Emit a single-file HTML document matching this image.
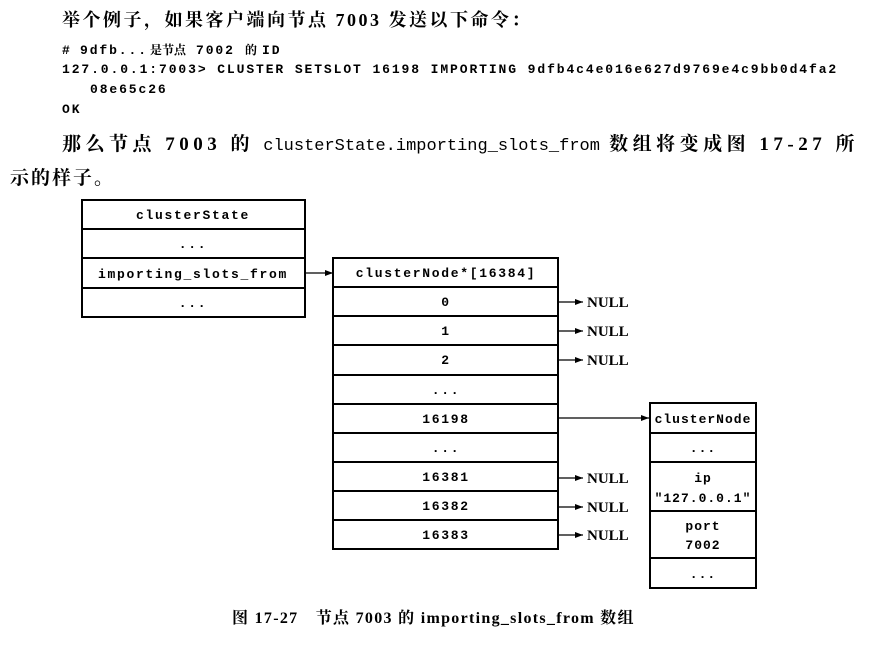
<!DOCTYPE html>
<html><head><meta charset="utf-8"><style>
html,body{margin:0;padding:0;background:#fff;}
svg{display:block;}
.cn{font-family:"Liberation Serif","Noto Serif CJK SC","Noto Sans CJK SC",serif;font-weight:bold;}
.m{font-family:"Liberation Mono",monospace;}
</style></head><body>
<svg width="876" height="652" viewBox="0 0 876 652" xmlns="http://www.w3.org/2000/svg">
<defs><marker id="a" markerWidth="8" markerHeight="6" refX="8" refY="3" orient="auto" markerUnits="userSpaceOnUse"><path d="M0,0 L8,3 L0,6 z" fill="#000"/></marker></defs>
<text class="cn" x="62" y="26" font-size="18" letter-spacing="2.5">举个例子，如果客户端向节点 7003 发送以下命令：</text>
<g class="m" font-size="13" font-weight="bold" letter-spacing="1.9">
<text x="62" y="54">#</text><text x="80" y="54">9dfb...</text>
<text class="cn" x="150" y="54" font-size="12" letter-spacing="0">是节点</text>
<text x="196" y="54">7002</text>
<text class="cn" x="245" y="54" font-size="12" letter-spacing="0">的</text>
<text x="262" y="54">ID</text>
<text x="62" y="73">127.0.0.1:7003&gt; CLUSTER SETSLOT 16198 IMPORTING 9dfb4c4e016e627d9769e4c9bb0d4fa2</text>
<text x="90" y="93">08e65c26</text>
<text x="62" y="113">OK</text>
</g>
<text x="62" y="150" font-size="19"><tspan class="cn" letter-spacing="4.5">那么节点 7003 的 </tspan><tspan class="m" font-size="17">clusterState.importing_slots_from</tspan><tspan class="cn" letter-spacing="4.5"> 数组将变成图 17-27 所</tspan></text>
<text class="cn" x="10" y="184" font-size="19" letter-spacing="2">示的样子。</text>
<g fill="none" stroke="#000" stroke-width="2">
<rect x="82" y="200" width="223" height="117"/>
<line x1="82" y1="229" x2="305" y2="229"/><line x1="82" y1="258" x2="305" y2="258"/><line x1="82" y1="288" x2="305" y2="288"/>
<rect x="333" y="258" width="225" height="291"/>
<line x1="333" y1="287" x2="558" y2="287"/><line x1="333" y1="316" x2="558" y2="316"/><line x1="333" y1="345" x2="558" y2="345"/><line x1="333" y1="375" x2="558" y2="375"/><line x1="333" y1="404" x2="558" y2="404"/><line x1="333" y1="433" x2="558" y2="433"/><line x1="333" y1="462" x2="558" y2="462"/><line x1="333" y1="491" x2="558" y2="491"/><line x1="333" y1="520" x2="558" y2="520"/>
<rect x="650" y="403" width="106" height="185"/>
<line x1="650" y1="433" x2="756" y2="433"/><line x1="650" y1="462" x2="756" y2="462"/><line x1="650" y1="511" x2="756" y2="511"/><line x1="650" y1="558" x2="756" y2="558"/>
</g>
<g stroke="#000" stroke-width="1.2" marker-end="url(#a)">
<line x1="306" y1="273" x2="333" y2="273"/>
<line x1="559" y1="302" x2="583" y2="302"/><line x1="559" y1="331" x2="583" y2="331"/><line x1="559" y1="360" x2="583" y2="360"/>
<line x1="559" y1="418" x2="649" y2="418"/>
<line x1="559" y1="478" x2="583" y2="478"/><line x1="559" y1="507" x2="583" y2="507"/><line x1="559" y1="535" x2="583" y2="535"/>
</g>
<g class="m" font-size="13" font-weight="bold" text-anchor="middle" letter-spacing="1.7">
<text x="193" y="219">clusterState</text><text x="193" y="248">...</text><text x="193" y="278">importing_slots_from</text><text x="193" y="307">...</text>
<text x="446" y="277">clusterNode*[16384]</text><text x="446" y="306">0</text><text x="446" y="335">1</text><text x="446" y="364">2</text><text x="446" y="394">...</text><text x="446" y="423">16198</text><text x="446" y="452">...</text><text x="446" y="481">16381</text><text x="446" y="510">16382</text><text x="446" y="539">16383</text>
</g>
<g class="m" font-size="13" font-weight="bold" text-anchor="middle" letter-spacing="1">
<text x="703" y="423">clusterNode</text><text x="703" y="452">...</text><text x="703" y="482">ip</text><text x="703" y="502">"127.0.0.1"</text><text x="703" y="530">port</text><text x="703" y="549">7002</text><text x="703" y="578">...</text>
</g>
<g font-family="Liberation Serif,serif" font-weight="bold" font-size="15">
<text x="587" y="307">NULL</text><text x="587" y="336">NULL</text><text x="587" y="365">NULL</text><text x="587" y="483">NULL</text><text x="587" y="512">NULL</text><text x="587" y="540">NULL</text>
</g>
<text class="cn" x="232" y="623" font-size="16" letter-spacing="1.3">图 17-27　节点 7003 的 importing_slots_from 数组</text>
</svg>
</body></html>
